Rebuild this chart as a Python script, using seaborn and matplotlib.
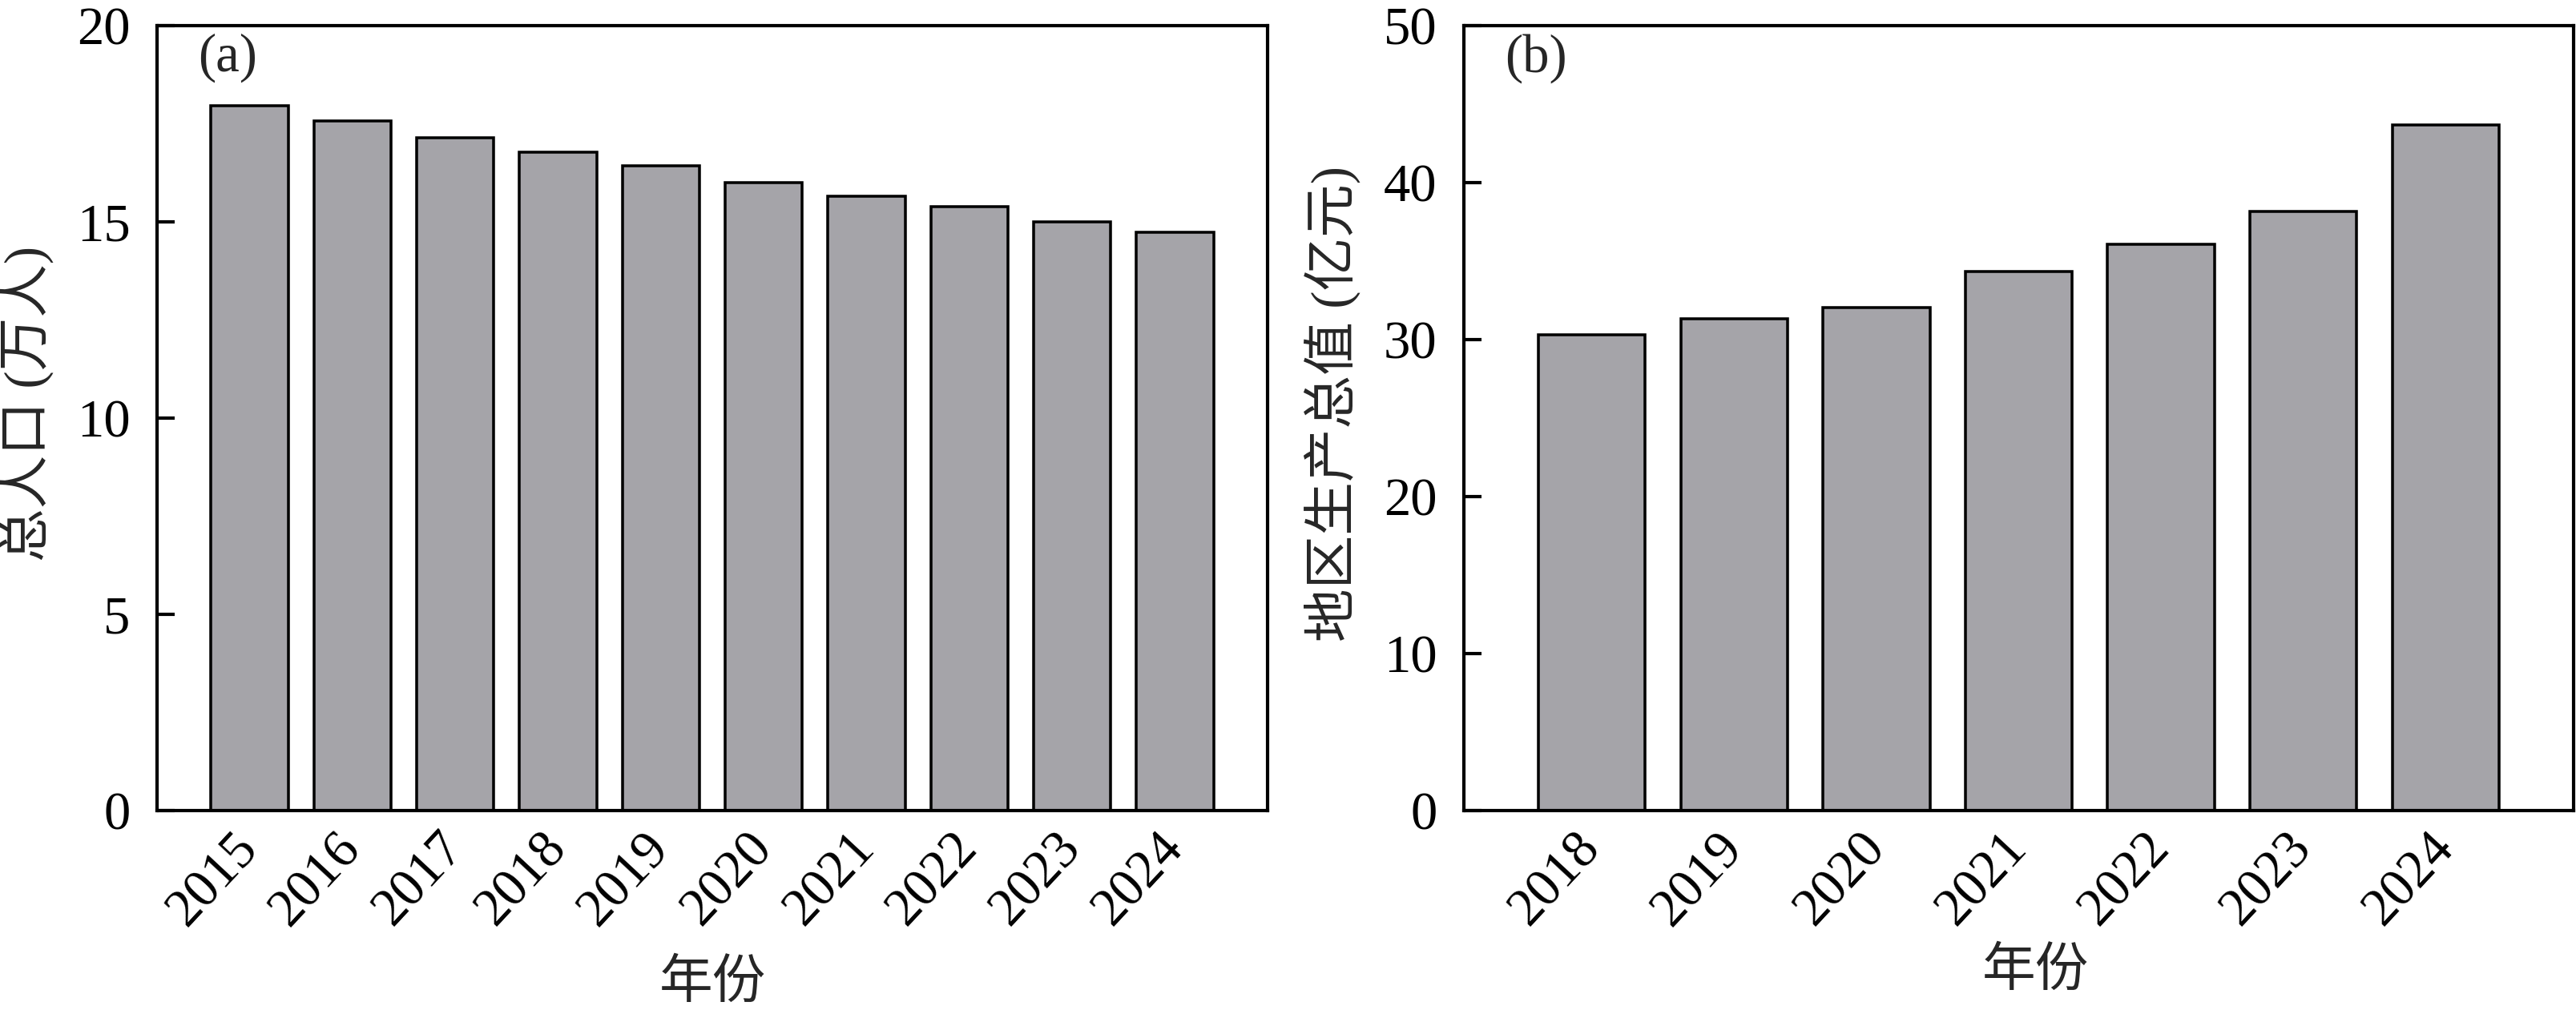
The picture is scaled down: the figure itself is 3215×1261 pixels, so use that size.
import matplotlib
matplotlib.use("Agg")
import matplotlib.pyplot as plt
import numpy as np
import pandas as pd
import seaborn as sns

# ---- data ----
years_a = ["2015", "2016", "2017", "2018", "2019", "2020", "2021", "2022", "2023", "2024"]
population = [17.96, 17.57, 17.14, 16.78, 16.43, 16.00, 15.66, 15.38, 15.00, 14.74]

years_b = ["2018", "2019", "2020", "2021", "2022", "2023", "2024"]
gdp = [30.31, 31.33, 32.05, 34.35, 36.09, 38.18, 43.68]

ylabel_a = "总人口 (万人)"
ylabel_b = "地区生产总值 (亿元)"
xlabel = "年份"
yticks_a = [0, 5, 10, 15, 20]
yticks_b = [0, 10, 20, 30, 40, 50]

sns.set_theme(style="ticks")
plt.rcParams["font.family"] = ["Liberation Serif", "Noto Sans CJK SC", "DejaVu Sans"]
plt.rcParams["axes.linewidth"] = 1.0
plt.rcParams["xtick.direction"] = "in"
plt.rcParams["ytick.direction"] = "in"

W, H, DPI = 3215, 1261, 300
fig = plt.figure(figsize=(W / DPI, H / DPI), dpi=DPI)

bar_color = "#a5a4a9"
FS = 16

ax_a = fig.add_axes([196 / W, 1 - 1012 / H, (1582 - 196) / W, (1012 - 32) / H])
ax_b = fig.add_axes([1827 / W, 1 - 1012 / H, (3212 - 1827) / W, (1012 - 32) / H])

df_a = pd.DataFrame({"year": years_a, "value": population})
df_b = pd.DataFrame({"year": years_b, "value": gdp})

panels = [
    (ax_a, df_a, years_a, ylabel_a, yticks_a, "(a)", -0.190, 0.5),
    (ax_b, df_b, years_b, ylabel_b, yticks_b, "(b)", -0.175, 0.515),
]

for ax, df, order, ylab, yt, tag, xl_y, xl_x in panels:
    sns.barplot(data=df, x="year", y="value", order=order, color=bar_color,
                width=0.75, edgecolor="black", linewidth=0.85, saturation=1,
                ax=ax, errorbar=None)
    n = len(order)
    ax.set_xlim(-0.9, n - 0.1)
    ax.set_ylim(yt[0], yt[-1])
    ax.set_yticks(yt)
    ax.set_yticklabels([str(v) for v in yt], fontsize=FS)
    ax.set_xticks(range(n))
    ax.set_xticklabels(order, fontsize=FS, rotation=47, ha="right",
                       va="center", rotation_mode="anchor")
    ax.tick_params(axis="both", direction="in", length=5.3, width=1.0,
                   colors="black")
    ax.tick_params(axis="x", pad=9)
    ax.tick_params(axis="y", pad=8)
    for s in ax.spines.values():
        s.set_visible(True)
        s.set_linewidth(1.0)
        s.set_color("black")
    ax.set_ylabel(ylab, fontsize=FS)
    ax.yaxis.set_label_coords(-0.093, 0.518)
    ax.set_xlabel(xlabel, fontsize=FS)
    ax.xaxis.set_label_coords(xl_x, xl_y)
    ax.text(0.037, 0.99, tag, transform=ax.transAxes, fontsize=FS,
            ha="left", va="top")
    ax.grid(False)

fig.savefig("out.png", dpi=DPI)
